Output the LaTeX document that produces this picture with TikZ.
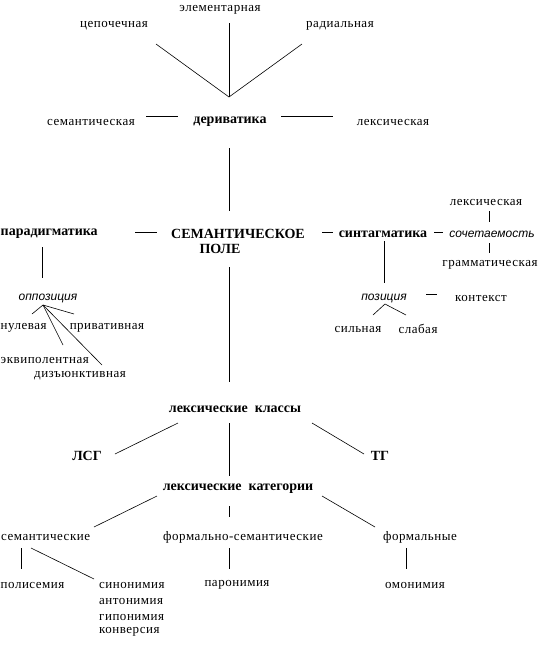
\documentclass[tikz,border=0pt]{standalone}
\usepackage{fontspec}
\setmainfont{Liberation Serif}
\newfontfamily\regsp{Liberation Serif}[LetterSpace=4]
\newfontfamily\itsans{Liberation Sans}
\tikzset{
  lbl/.style={inner sep=0pt, yshift=-2pt, font=\fontsize{13}{15}\regsp},
  blbl/.style={inner sep=0pt, yshift=-2pt, font=\fontsize{14}{16}\selectfont\bfseries},
  ilbl/.style={inner sep=0pt, yshift=-2pt, font=\fontsize{12}{14}\itsans\itshape},
  ln/.style={line width=0.6pt, black}
}
\begin{document}
\begin{tikzpicture}[x=1pt,y=-1pt]
\useasboundingbox (0,0) rectangle (540,646);
% top
\node[lbl] (elem) at (220,8) {элементарная};
\node[lbl] (cep) at (114,24) {цепочечная};
\node[lbl] (rad) at (340,24) {радиальная};
\coordinate (apex) at (229,97);
\coordinate (cepE) at (156,44);
\coordinate (elemE) at (229,23);
\coordinate (radE) at (302,44);
\draw[ln] (cepE) -- (apex) -- (radE);
\draw[ln] (elemE) -- (apex);
% derivatika row
\node[lbl] (semq) at (91,120) {семантическая};
\node[blbl] (der) at (230,120) {дериватика};
\node[lbl] (lexq) at (393,120) {лексическая};
\coordinate (d1a) at (146,116); \coordinate (d1b) at (178,116);
\coordinate (d2a) at (281,116); \coordinate (d2b) at (333,116);
\draw[ln] (d1a) -- (d1b);
\draw[ln] (d2a) -- (d2b);
\coordinate (derS) at (229,148); \coordinate (semN) at (229,211);
\draw[ln] (derS) -- (semN);
% main row
\node[blbl, anchor=west] (par) at (0.5,232) {парадигматика};
\node[blbl] (sem1) at (238,232) {СЕМАНТИЧЕСКОЕ};
\node[blbl] (sem2) at (220,247) {ПОЛЕ};
\node[blbl] (sin) at (383,232) {синтагматика};
\coordinate (p1a) at (135,232); \coordinate (p1b) at (157,232);
\draw[ln] (p1a) -- (p1b);
\coordinate (s1a) at (322,232); \coordinate (s1b) at (333,232);
\draw[ln] (s1a) -- (s1b);
\coordinate (s2a) at (434,232); \coordinate (s2b) at (443,232);
\draw[ln] (s2a) -- (s2b);
\node[ilbl] (soch) at (492,232) {сочетаемость};
\node[lbl] (lexr) at (486,200) {лексическая};
\node[lbl] (gram) at (490,263) {грамматическая};
\coordinate (g1a) at (489,211); \coordinate (g1b) at (489,222);
\coordinate (g2a) at (489,243); \coordinate (g2b) at (489,253);
\draw[ln] (g1a) -- (g1b);
\draw[ln] (g2a) -- (g2b);
% syntagmatics -> position
\coordinate (sinS) at (384,241); \coordinate (posN) at (384,283);
\draw[ln] (sinS) -- (posN);
\node[ilbl] (pos) at (384,296) {позиция};
\coordinate (k1a) at (426,294); \coordinate (k1b) at (437,294);
\draw[ln] (k1a) -- (k1b);
\node[lbl] (kont) at (481,296) {контекст};
\coordinate (posA) at (385,304);
\coordinate (silE) at (373,315); \coordinate (slaE) at (406,315);
\draw[ln] (silE) -- (posA) -- (slaE);
\node[lbl] (sil) at (358,327) {сильная};
\node[lbl] (sla) at (418,327) {слабая};
% paradigmatics -> opposition
\coordinate (parS) at (42,247); \coordinate (oppN) at (42,278);
\draw[ln] (parS) -- (oppN);
\node[ilbl] (opp) at (48,296) {оппозиция};
\coordinate (oppA) at (43,305);
\coordinate (nulE) at (32,314); \coordinate (priE) at (74,314);
\coordinate (ekvE) at (63,345); \coordinate (dizE) at (102,365);
\draw[ln] (nulE) -- (oppA) -- (priE);
\draw[ln] (oppA) -- (ekvE);
\draw[ln] (oppA) -- (dizE);
\node[lbl, anchor=west] (nul) at (0.5,326) {нулевая};
\node[lbl] (pri) at (107,326) {привативная};
\node[lbl, anchor=west] (ekv) at (0.5,358) {эквиполентная};
\node[lbl] (diz) at (80,374) {дизъюнктивная};
% main vertical down
\coordinate (semS) at (229,267); \coordinate (lkN) at (229,382);
\draw[ln] (semS) -- (lkN);
\node[blbl] (lk) at (235,407) {лексические\ \ классы};
\coordinate (lkL) at (178,423); \coordinate (lsgE) at (115,454);
\coordinate (lkR) at (312,423); \coordinate (tgE) at (364,454);
\coordinate (lkS) at (229,423); \coordinate (lcN) at (229,476);
\draw[ln] (lkL) -- (lsgE);
\draw[ln] (lkR) -- (tgE);
\draw[ln] (lkS) -- (lcN);
\node[blbl] (lsg) at (87,454) {ЛСГ};
\node[blbl] (tg) at (380,454) {ТГ};
\node[blbl] (lc) at (238,487) {лексические\ \ категории};
\coordinate (lcL) at (157,496); \coordinate (smE) at (94,527);
\coordinate (lcR) at (322,496); \coordinate (fmE) at (375,527);
\coordinate (lcS) at (229,506); \coordinate (fsN) at (229,517);
\draw[ln] (lcL) -- (smE);
\draw[ln] (lcR) -- (fmE);
\draw[ln] (lcS) -- (fsN);
\node[lbl, anchor=west] (sm) at (1,535) {семантические};
\node[lbl] (fs) at (243,535) {формально-семантические};
\node[lbl] (fm) at (420,535) {формальные};
\coordinate (smS) at (21,548); \coordinate (polN) at (21,569);
\coordinate (smD) at (31,548); \coordinate (sinN) at (94,579);
\draw[ln] (smS) -- (polN);
\draw[ln] (smD) -- (sinN);
\coordinate (fsS) at (229,548); \coordinate (parN) at (229,569);
\draw[ln] (fsS) -- (parN);
\coordinate (fmS) at (406,548); \coordinate (omN) at (406,569);
\draw[ln] (fmS) -- (omN);
\node[lbl, anchor=west] (pol) at (0.5,583) {полисемия};
\node[lbl, anchor=west] (syn) at (99,583) {синонимия};
\node[lbl, anchor=west] (ant) at (99,599) {антонимия};
\node[lbl, anchor=west] (gip) at (99,615) {гипонимия};
\node[lbl, anchor=west] (konv) at (99,630) {конверсия};
\node[lbl] (paron) at (237,583) {паронимия};
\node[lbl] (omon) at (415,583) {омонимия};
\end{tikzpicture}
\end{document}
